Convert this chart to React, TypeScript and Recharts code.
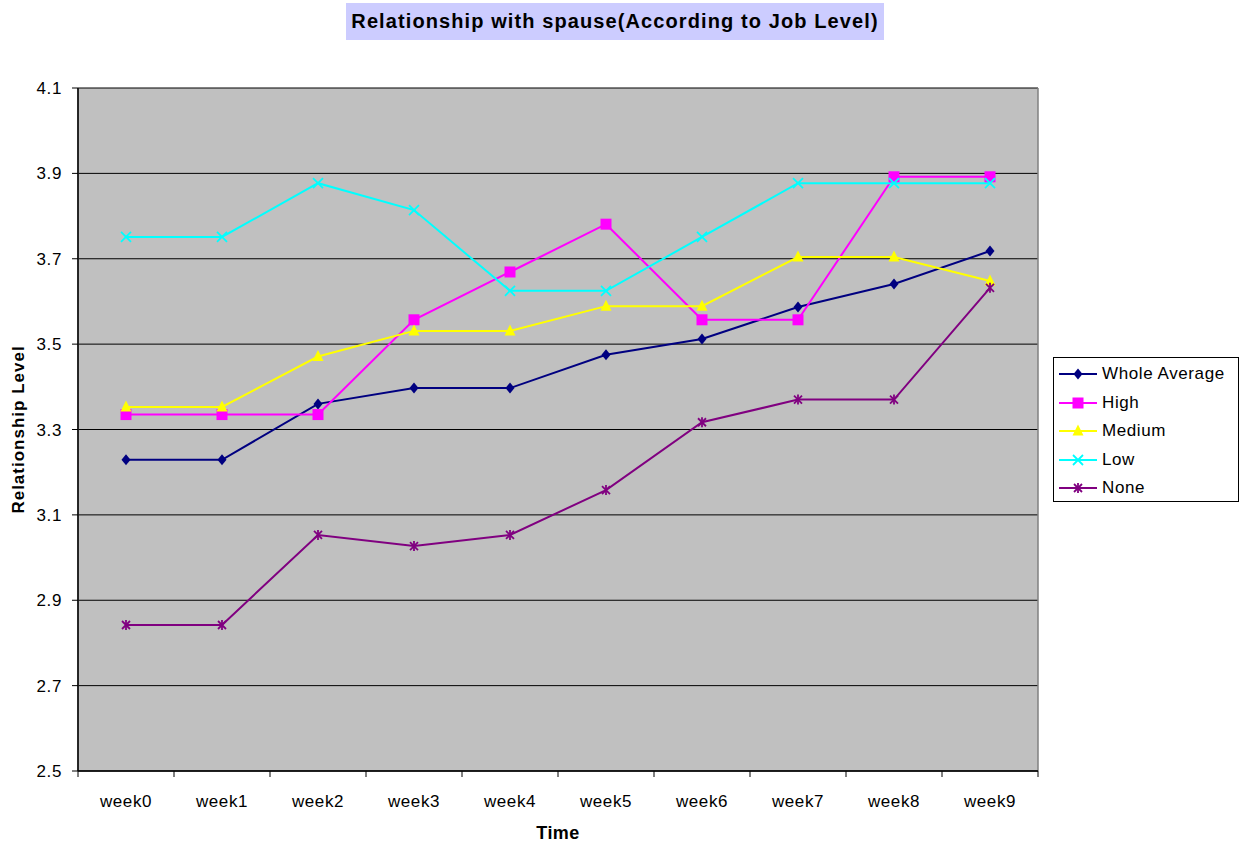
import React from "react"
import { LineChart, Line, XAxis, YAxis, CartesianGrid, Label } from "recharts"

// values
const WEEKS = ["week0", "week1", "week2", "week3", "week4", "week5", "week6", "week7", "week8", "week9"]
const WHOLE_AVERAGE = [3.229, 3.229, 3.36, 3.397, 3.397, 3.475, 3.512, 3.587, 3.641, 3.718]
const HIGH = [3.335, 3.335, 3.335, 3.557, 3.669, 3.781, 3.557, 3.557, 3.892, 3.892]
const MEDIUM = [3.353, 3.353, 3.471, 3.531, 3.531, 3.589, 3.589, 3.704, 3.704, 3.648]
const LOW = [3.751, 3.751, 3.877, 3.814, 3.625, 3.625, 3.751, 3.877, 3.877, 3.877]
const NONE = [2.842, 2.842, 3.053, 3.027, 3.053, 3.158, 3.317, 3.37, 3.37, 3.632]
const Y_TICKS = [2.5, 2.7, 2.9, 3.1, 3.3, 3.5, 3.7, 3.9, 4.1]

const FONT = '"Liberation Sans", Arial, sans-serif'
const CAT_PAD = 48

type MarkerKind = "diamond" | "square" | "triangle" | "cross" | "star"

const SERIES: { key: string; name: string; color: string; marker: MarkerKind; values: number[] }[] = [
  { key: "whole", name: "Whole Average", color: "#000080", marker: "diamond", values: WHOLE_AVERAGE },
  { key: "high", name: "High", color: "#FF00FF", marker: "square", values: HIGH },
  { key: "medium", name: "Medium", color: "#FFFF00", marker: "triangle", values: MEDIUM },
  { key: "low", name: "Low", color: "#00FFFF", marker: "cross", values: LOW },
  { key: "none", name: "None", color: "#800080", marker: "star", values: NONE },
]

const data = WEEKS.map((week, i) => {
  const row: Record<string, string | number> = { week }
  SERIES.forEach((s) => (row[s.key] = s.values[i]))
  return row
})

function Marker({ cx, cy, kind, color }: { cx: number; cy: number; kind: MarkerKind; color: string }) {
  if (cx == null || cy == null) return null
  switch (kind) {
    case "diamond":
      return <polygon points={`${cx},${cy - 5.5} ${cx + 4.5},${cy} ${cx},${cy + 5.5} ${cx - 4.5},${cy}`} fill={color} />
    case "square":
      return <rect x={cx - 5.5} y={cy - 5.5} width={11} height={11} fill={color} />
    case "triangle":
      return <polygon points={`${cx},${cy - 6.5} ${cx + 5.5},${cy + 4.5} ${cx - 5.5},${cy + 4.5}`} fill={color} />
    case "cross":
      return (
        <g stroke={color} strokeWidth={1.8}>
          <line x1={cx - 5} y1={cy - 5} x2={cx + 5} y2={cy + 5} />
          <line x1={cx - 5} y1={cy + 5} x2={cx + 5} y2={cy - 5} />
        </g>
      )
    case "star":
      return (
        <g stroke={color} strokeWidth={1.8}>
          <line x1={cx - 4} y1={cy - 4} x2={cx + 4} y2={cy + 4} />
          <line x1={cx - 4} y1={cy + 4} x2={cx + 4} y2={cy - 4} />
          <line x1={cx} y1={cy - 5} x2={cx} y2={cy + 5} />
        </g>
      )
  }
  return null
}

// week label centred, tick marks on the category borders (Excel style)
const WeekTick = (props: any) => {
  const { x, y, payload, index, visibleTicksCount } = props
  const last = index === visibleTicksCount - 1
  return (
    <g>
      <line x1={x - CAT_PAD} y1={y} x2={x - CAT_PAD} y2={y + 6} stroke="#000" />
      {last && <line x1={x + CAT_PAD} y1={y} x2={x + CAT_PAD} y2={y + 6} stroke="#000" />}
      <text x={x} y={y + 36} textAnchor="middle" fill="#000" fontSize={17} fontFamily={FONT} letterSpacing={0.6}>
        {payload.value}
      </text>
    </g>
  )
}

const YTitle = ({ viewBox }: any) => {
  const x = viewBox.x + 16
  const y = viewBox.y + viewBox.height / 2
  return (
    <text x={x} y={y} transform={`rotate(-90 ${x} ${y})`} textAnchor="middle" fontSize={17} fontWeight="bold" fontFamily={FONT} letterSpacing={1} fill="#000">
      Relationship Level
    </text>
  )
}

const XTitle = ({ viewBox }: any) => (
  <text x={viewBox.x + viewBox.width / 2} y={viewBox.y + 68} textAnchor="middle" fontSize={18} fontWeight="bold" fontFamily={FONT} letterSpacing={0.4} fill="#000">
    Time
  </text>
)

// plot frame: only the left and right edges of the plot area
const frameEdges = ({ offset }: any) => [offset.left, offset.left + offset.width]

function LegendBox() {
  return (
    <div
      style={{
        position: "absolute",
        left: 1053,
        top: 357,
        width: 186,
        height: 145,
        boxSizing: "border-box",
        border: "1px solid #000",
        background: "#fff",
        paddingTop: 2,
        fontFamily: FONT,
        fontSize: 17,
        letterSpacing: 0.6,
      }}
    >
      {SERIES.map((s) => (
        <div key={s.key} style={{ height: 28.5, display: "flex", alignItems: "center" }}>
          <svg width={44} height={20} style={{ marginLeft: 4 }}>
            <line x1={1} y1={10} x2={39} y2={10} stroke={s.color} strokeWidth={2} />
            <Marker cx={20} cy={10} kind={s.marker} color={s.color} />
          </svg>
          <span style={{ color: "#000" }}>{s.name}</span>
        </div>
      ))}
    </div>
  )
}

export default function App() {
  return (
    <div style={{ position: "absolute", left: 0, top: 0, width: 1245, height: 844, background: "#fff" }}>
      <div
        style={{
          position: "absolute",
          left: 346,
          top: 3,
          width: 538,
          height: 37,
          background: "#CCCCFF",
          fontFamily: FONT,
          fontWeight: "bold",
          fontSize: 20,
          letterSpacing: 1.1,
          lineHeight: "37px",
          textAlign: "center",
          color: "#000",
          whiteSpace: "nowrap",
        }}
      >
        Relationship with spause(According to Job Level)
      </div>
      <LineChart width={1245} height={844} data={data} margin={{ top: 88, right: 207, bottom: 43, left: 8 }}>
        <CartesianGrid vertical={false} fill="#C0C0C0" stroke="#000" strokeOpacity={1} />
        <CartesianGrid horizontal={false} verticalCoordinatesGenerator={frameEdges} stroke="#808080" strokeWidth={1.5} />
        <XAxis
          dataKey="week"
          padding={{ left: CAT_PAD, right: CAT_PAD }}
          height={30}
          tickLine={false}
          tickSize={0}
          tickMargin={0}
          axisLine={{ stroke: "#000", strokeWidth: 1.5 }}
          tick={<WeekTick />}
          interval={0}
        >
          <Label content={<XTitle />} />
        </XAxis>
        <YAxis
          width={70}
          domain={[2.5, 4.1]}
          ticks={Y_TICKS}
          interval={0}
          tickSize={6}
          tickMargin={10}
          tickFormatter={(v: number) => v.toFixed(1)}
          tick={{ fill: "#000", fontSize: 17, fontFamily: FONT, letterSpacing: 0.6 }}
          tickLine={{ stroke: "#000" }}
          axisLine={{ stroke: "#000", strokeWidth: 1.5 }}
        >
          <Label content={<YTitle />} />
        </YAxis>
        {SERIES.map((s) => (
          <Line
            key={s.key}
            type="linear"
            dataKey={s.key}
            name={s.name}
            stroke={s.color}
            strokeWidth={2}
            isAnimationActive={false}
            activeDot={false}
            dot={(p: any) => <Marker key={`${s.key}-${p.index}`} cx={p.cx} cy={p.cy} kind={s.marker} color={s.color} />}
          />
        ))}
      </LineChart>
      <LegendBox />
    </div>
  )
}
